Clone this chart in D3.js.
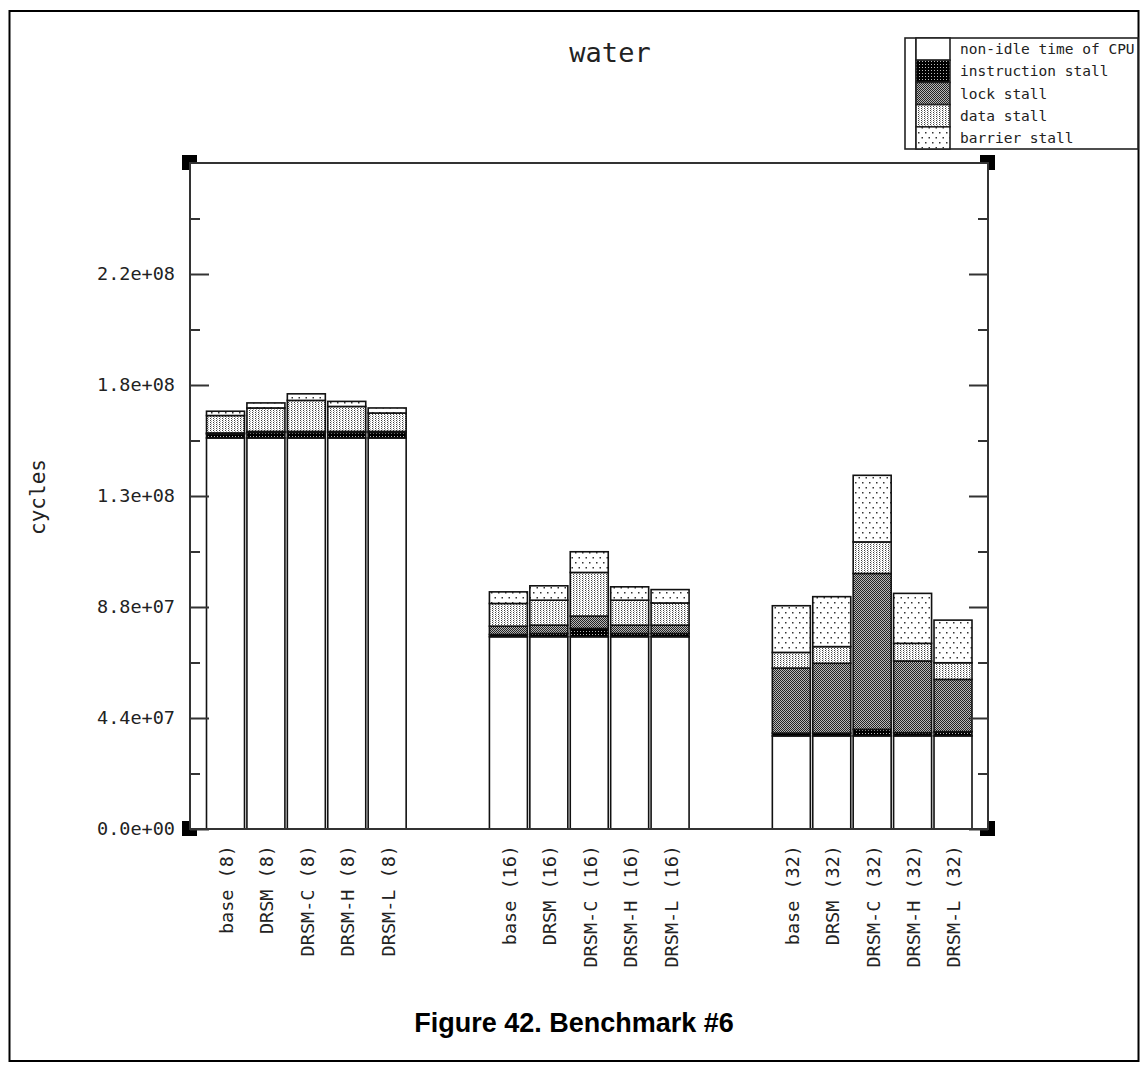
<!DOCTYPE html>
<html>
<head>
<meta charset="utf-8">
<script src="https://cdn.jsdelivr.net/npm/d3@7"></script>
<style>
  html, body { margin: 0; padding: 0; background: #fff; }
  svg { display: block; }
  .mono { font-family: "DejaVu Sans Mono", "Liberation Mono", monospace; fill: #222; }
</style>
</head>
<body>
<svg id="chart" width="1148" height="1070"></svg>
<script>
// Benchmark "water": cycle breakdown per configuration and processor count
const categories = [
  "base (8)", "DRSM (8)", "DRSM-C (8)", "DRSM-H (8)", "DRSM-L (8)",
  "base (16)", "DRSM (16)", "DRSM-C (16)", "DRSM-H (16)", "DRSM-L (16)",
  "base (32)", "DRSM (32)", "DRSM-C (32)", "DRSM-H (32)", "DRSM-L (32)"
];
// values in millions of cycles
const nonIdle     = [155, 155, 155, 155, 155, 76.2, 76.2, 76.2, 76.2, 76.2, 36.9, 36.9, 36.9, 36.9, 36.9];
const instruction = [1.6, 2.2, 2.2, 2.2, 2.2, 0.9, 1.3, 3.3, 1.3, 1.3, 1.1, 1.1, 2.6, 1.3, 1.7];
const lock        = [0.4, 0.4, 0.4, 0.4, 0.4, 3.3, 3.3, 4.9, 3.3, 3.3, 25.8, 27.7, 61.8, 28.4, 20.7];
const dataStall   = [6.9, 9.3, 12.3, 9.9, 7.3, 9.0, 9.9, 17.3, 9.9, 8.8, 6.2, 6.6, 12.5, 7.0, 6.6];
const barrier     = [1.7, 2.0, 2.6, 2.0, 2.0, 4.6, 5.7, 8.2, 5.3, 5.3, 18.5, 19.8, 26.4, 19.8, 16.9];

const seriesNames = ["non-idle time of CPU", "instruction stall", "lock stall", "data stall", "barrier stall"];
const seriesKeys  = ["nonIdle", "instruction", "lock", "data", "barrier"];

const majorTicks = [0, 4.4e7, 8.8e7, 1.32e8, 1.76e8, 2.2e8];
const tickLabels = ["0.0e+00", "4.4e+07", "8.8e+07", "1.3e+08", "1.8e+08", "2.2e+08"];
const minorTicks = [2.2e7, 6.6e7, 1.1e8, 1.54e8, 1.98e8, 2.42e8];
const yMax = 2.64e8;

const svg = d3.select("#chart");
const M = 1e6;

const rows = categories.map((c, i) => ({
  name: c,
  slot: Math.floor(i / 5) * 7 + (i % 5),
  nonIdle: nonIdle[i] * M,
  instruction: instruction[i] * M,
  lock: lock[i] * M,
  data: dataStall[i] * M,
  barrier: barrier[i] * M
}));

const plot = { left: 190, right: 988, top: 163, bottom: 829 };

const y = d3.scaleLinear().domain([0, yMax]).range([plot.bottom, plot.top]);
const x = d3.scaleBand().domain(d3.range(19)).range([206.5, 972]).paddingInner(0.06);

// fill patterns
const defs = svg.append("defs");
function pat(id, w, h, draw) {
  const p = defs.append("pattern").attr("id", id).attr("patternUnits", "userSpaceOnUse")
    .attr("width", w).attr("height", h);
  draw(p);
}
pat("p-nonIdle", 4, 4, p => p.append("rect").attr("width", 4).attr("height", 4).attr("fill", "#fff"));
pat("p-instruction", 3, 3, p => {
  p.append("rect").attr("width", 3).attr("height", 3).attr("fill", "#000");
  p.append("rect").attr("x", 1).attr("y", 1).attr("width", 1).attr("height", 1).attr("fill", "#bbb");
});
pat("p-lock", 2, 2, p => {
  p.append("rect").attr("width", 2).attr("height", 2).attr("fill", "#b8b8b8");
  p.append("rect").attr("width", 1).attr("height", 1).attr("fill", "#222");
  p.append("rect").attr("x", 1).attr("y", 1).attr("width", 1).attr("height", 1).attr("fill", "#222");
});
pat("p-data", 3, 2, p => {
  p.append("rect").attr("width", 3).attr("height", 2).attr("fill", "#fff");
  p.append("rect").attr("width", 1).attr("height", 1).attr("fill", "#444");
  p.append("rect").attr("x", 1).attr("y", 1).attr("width", 1).attr("height", 1).attr("fill", "#aaa");
});
pat("p-barrier", 7, 10, p => {
  p.append("rect").attr("width", 7).attr("height", 10).attr("fill", "#fff");
  p.append("rect").attr("x", 1).attr("y", 2).attr("width", 1.5).attr("height", 1.5).attr("fill", "#333");
  p.append("rect").attr("x", 4.5).attr("y", 7).attr("width", 1.5).attr("height", 1.5).attr("fill", "#333");
});

// outer page border
svg.append("rect").attr("x", 9.5).attr("y", 11).attr("width", 1129).attr("height", 1050)
  .attr("fill", "none").attr("stroke", "#000").attr("stroke-width", 2);

// stacked bars
const stack = d3.stack().keys(seriesKeys);
const layers = stack(rows);
const gBars = svg.append("g");
layers.forEach(layer => {
  gBars.append("g").selectAll("rect").data(layer).join("rect")
    .attr("x", d => x(d.data.slot))
    .attr("width", x.bandwidth())
    .attr("y", d => y(d[1]))
    .attr("height", d => y(d[0]) - y(d[1]))
    .attr("fill", `url(#p-${layer.key})`)
    .attr("stroke", "#111")
    .attr("stroke-width", 1.6);
});

// corner markers
const corners = [
  [plot.left, plot.top, 1, 1], [plot.right, plot.top, -1, 1],
  [plot.left, plot.bottom, 1, -1], [plot.right, plot.bottom, -1, -1]
];
corners.forEach(([cx, cy, sx, sy]) => {
  svg.append("rect").attr("x", cx - 8).attr("y", cy - 8).attr("width", 15).attr("height", 15).attr("fill", "#000");
  svg.append("rect").attr("x", sx > 0 ? cx : cx - 8).attr("y", sy > 0 ? cy : cy - 8)
    .attr("width", 8).attr("height", 8).attr("fill", "#fff");
});

// plot frame
svg.append("rect").attr("x", plot.left).attr("y", plot.top)
  .attr("width", plot.right - plot.left).attr("height", plot.bottom - plot.top)
  .attr("fill", "none").attr("stroke", "#333").attr("stroke-width", 2);

// axes: major and minor ticks on both sides, pointing inward
function styleAxis(g) {
  g.select(".domain").remove();
  g.selectAll(".tick line").attr("stroke", "#333").attr("stroke-width", 2);
}
svg.append("g").attr("transform", `translate(${plot.left},0)`)
  .call(d3.axisLeft(y).tickValues(majorTicks).tickSize(-19).tickPadding(15)
    .tickFormat((d, i) => tickLabels[i]))
  .call(styleAxis)
  .call(g => g.selectAll("text").attr("class", "mono").style("font-size", "18.5px")
    .style("font-family", "'DejaVu Sans Mono', monospace").attr("fill", "#222"));
svg.append("g").attr("transform", `translate(${plot.left},0)`)
  .call(d3.axisLeft(y).tickValues(minorTicks).tickSize(-10).tickFormat(""))
  .call(styleAxis);
svg.append("g").attr("transform", `translate(${plot.right},0)`)
  .call(d3.axisRight(y).tickValues(majorTicks).tickSize(-19).tickFormat(""))
  .call(styleAxis);
svg.append("g").attr("transform", `translate(${plot.right},0)`)
  .call(d3.axisRight(y).tickValues(minorTicks).tickSize(-10).tickFormat(""))
  .call(styleAxis);

// category labels, rotated
svg.append("g").selectAll("text").data(rows).join("text")
  .attr("class", "mono")
  .attr("transform", d => `translate(${x(d.slot) + x.bandwidth() / 2 + 1},${plot.bottom + 16}) rotate(-90)`)
  .attr("text-anchor", "end")
  .attr("dy", "0.35em")
  .style("font-size", "18.5px")
  .text(d => d.name);

// axis title
svg.append("text").attr("class", "mono")
  .attr("transform", `translate(38,497) rotate(-90)`)
  .attr("text-anchor", "middle").attr("dy", "0.35em")
  .style("font-size", "21px")
  .text("cycles");

// chart title
svg.append("text").attr("class", "mono")
  .attr("x", 610).attr("y", 62).attr("text-anchor", "middle")
  .style("font-size", "27px")
  .text("water");

// legend
const lg = { x0: 905, x1: 916, x2: 950, x3: 1138, top: 38, rowH: 22.2 };
const gL = svg.append("g");
gL.append("rect").attr("x", lg.x0).attr("y", lg.top).attr("width", lg.x3 - lg.x0)
  .attr("height", lg.rowH * 5).attr("fill", "#fff").attr("stroke", "#222").attr("stroke-width", 1.6);
gL.append("line").attr("x1", lg.x1).attr("x2", lg.x1).attr("y1", lg.top).attr("y2", lg.top + lg.rowH * 5)
  .attr("stroke", "#222").attr("stroke-width", 1.6);
seriesKeys.forEach((k, i) => {
  gL.append("rect").attr("x", lg.x1).attr("y", lg.top + i * lg.rowH)
    .attr("width", lg.x2 - lg.x1).attr("height", lg.rowH)
    .attr("fill", `url(#p-${k})`).attr("stroke", "#222").attr("stroke-width", 1.6);
  gL.append("text").attr("class", "mono")
    .attr("x", 960).attr("y", lg.top + i * lg.rowH + lg.rowH / 2).attr("dy", "0.35em")
    .style("font-size", "14.5px")
    .text(seriesNames[i]);
});

// figure caption
svg.append("text")
  .attr("x", 574).attr("y", 1032).attr("text-anchor", "middle")
  .style("font-family", "'Liberation Sans', Arial, sans-serif")
  .style("font-weight", "bold").style("font-size", "27px").attr("fill", "#000")
  .text("Figure 42.  Benchmark #6");
</script>
</body>
</html>
